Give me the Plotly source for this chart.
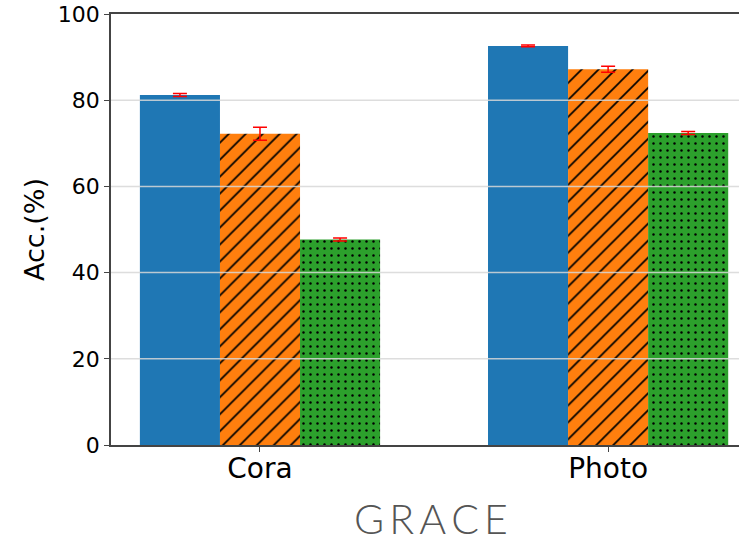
import plotly.graph_objects as go

categories = ["Cora", "Photo"]
series_names = ["A", "B", "C"]
blue_vals = [81.2, 92.6]
orange_vals = [72.2, 87.2]
green_vals = [47.7, 72.4]
blue_err = [0.35, 0.2]
orange_err = [1.5, 0.7]
green_err = [0.35, 0.35]
yticks = [0, 20, 40, 60, 80, 100]

colors = ["#1f77b4", "#ff7f0e", "#2ca02c"]
patterns = [dict(shape=""),
            dict(shape="/", fgcolor="black", fgopacity=1, bgcolor="#ff7f0e", size=12, solidity=0.14, fillmode="overlay"),
            dict(shape=".", fgcolor="black", fgopacity=1, bgcolor="#2ca02c", size=7, solidity=0.1, fillmode="overlay")]

fig = go.Figure()
for name, vals, errs, col, pat in zip(series_names, [blue_vals, orange_vals, green_vals],
                                        [blue_err, orange_err, green_err], colors, patterns):
    fig.add_trace(go.Bar(
        x=categories, y=vals, name=name,
        marker=dict(color=col, line=dict(width=0), pattern=pat),
        error_y=dict(type="data", array=errs, color="red", thickness=1.5, width=7),
        showlegend=False,
    ))

# gridlines drawn above the bars, as in the reference
for yv in yticks[1:-1]:
    fig.add_shape(type="line", xref="paper", yref="y", x0=0, x1=1, y0=yv, y1=yv,
                  line=dict(color="rgba(215,215,215,0.85)", width=1.5), layer="above")

fig.update_layout(
    width=739, height=542,
    margin=dict(l=111, r=0, t=14, b=97),
    paper_bgcolor="white", plot_bgcolor="white",
    barmode="group", bargap=0.31, bargroupgap=0,
    font=dict(family="DejaVu Sans", color="black"),
)
fig.update_xaxes(
    range=[-0.428, 1.376],
    showline=True, linecolor="#444", linewidth=1.5, mirror=True,
    ticks="outside", ticklen=5, tickcolor="#444", tickwidth=1.2,
    tickfont=dict(size=28, family="DejaVu Sans"),
    ticklabelstandoff=-7,
    showgrid=False, layer="above traces",
)
fig.update_yaxes(
    range=[0, 100], tickvals=yticks,
    showline=True, linecolor="#444", linewidth=1.5,
    ticks="outside", ticklen=5, tickcolor="#444", tickwidth=1.2,
    tickfont=dict(size=22, family="DejaVu Sans"),
    showgrid=False,
    zeroline=False, layer="above traces",
    title=dict(text="Acc.(%)", font=dict(size=27, family="DejaVu Sans"), standoff=5),
)
fig.add_annotation(
    text="\u2009".join("GRACE"), xref="paper", yref="paper", x=0.5096, y=-0.17,
    xanchor="center", yanchor="middle", showarrow=False,
    font=dict(family="Lato", size=41, color="#555555", weight=300),
)

fig.write_html("out.html")
